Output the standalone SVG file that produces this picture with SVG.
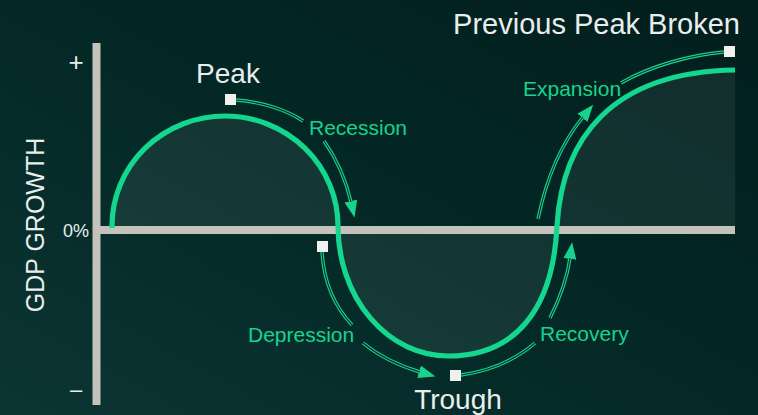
<svg xmlns="http://www.w3.org/2000/svg" xmlns:xlink="http://www.w3.org/1999/xlink" width="758" height="415" viewBox="0 0 758 415">
  <style>
    .lbl { font-family: "Liberation Sans", Arial, sans-serif; fill: #e9eeec; }
    .phase { font-family: "Liberation Sans", Arial, sans-serif; fill: #17d38e; font-size: 21px; }
    .axis { fill: #c3c3bb; }
    .curve { fill: none; stroke: #14d78f; stroke-width: 5.2; }
    .area { fill: #ffffff; fill-opacity: 0.065; }
    .out { fill: none; stroke: #17d38e; stroke-width: 3.4; }
    .gap { fill: none; stroke: #062a29; stroke-width: 1.1; }
    .node { fill: #f0f0ee; }
  </style>
  <defs>
    <linearGradient id="bg" x1="0" y1="1" x2="1" y2="0">
      <stop offset="0" stop-color="#0b3533"/>
      <stop offset="0.55" stop-color="#032725"/>
      <stop offset="1" stop-color="#021e1d"/>
    </linearGradient>
    <marker id="arr" viewBox="0 0 17 13" refX="1" refY="6.5" markerWidth="17" markerHeight="13" markerUnits="userSpaceOnUse" orient="auto">
      <path d="M0,0 L17,6.5 L0,13 Z" fill="#17d38e"/>
    </marker>
    <path id="c1a" d="M236,100 C 262,102 287,110 303,121"/>
    <path id="c1b" d="M324,141 C 336,158 346,180 351,202"/>
    <path id="c2a" d="M322,252 C 324,285 336,308 352,325"/>
    <path id="c2b" d="M363,343 C 380,357 400,366 420,372"/>
    <path id="c3a" d="M461,375 C 490,371 515,360 535,343"/>
    <path id="c3b" d="M550,318 C 559,300 567,280 570,258"/>
    <path id="c4a" d="M538,219 C 546,180 560,145 583,117"/>
    <path id="c4b" d="M621,83 C 650,66 690,55 724,52"/>
  </defs>

  <rect width="758" height="415" fill="url(#bg)"/>

  <g id="areas">
    <path class="area" d="M112,230 L112,226 A113 110 0 0 1 338,226 L338,230 Z"/>
    <path class="area" d="M338,230 A110 130 0 0 0 448,356 C 515,356 553,310 557,226 L557,230 Z"/>
    <path class="area" d="M557,230 L557,226 C 562,140 610,72 735,70 L735,230 Z"/>
  </g>

  <g id="axes">
    <rect class="axis" x="92.5" y="43" width="8" height="362"/>
    <rect class="axis" x="100" y="226" width="635" height="8"/>
  </g>

  <g id="cycle-curve">
    <path class="curve" d="M112,228 L112,226 A113 110 0 0 1 338,226 A110 130 0 0 0 448,356 C 515,356 553,310 557,226 C 562,140 610,72 735,70"/>
  </g>

  <g id="connectors">
    <use href="#c1a" class="out"/>
    <use href="#c1b" class="out" marker-end="url(#arr)"/>
    <use href="#c2a" class="out"/>
    <use href="#c2b" class="out" marker-end="url(#arr)"/>
    <use href="#c3a" class="out"/>
    <use href="#c3b" class="out" marker-end="url(#arr)"/>
    <use href="#c4a" class="out" marker-end="url(#arr)"/>
    <use href="#c4b" class="out"/>
    <use href="#c1a" class="gap"/>
    <use href="#c1b" class="gap"/>
    <use href="#c2a" class="gap"/>
    <use href="#c2b" class="gap"/>
    <use href="#c3a" class="gap"/>
    <use href="#c3b" class="gap"/>
    <use href="#c4a" class="gap"/>
    <use href="#c4b" class="gap"/>
  </g>

  <g id="axis-labels">
    <text class="lbl" x="35" y="225" font-size="25" text-anchor="middle" dominant-baseline="central" transform="rotate(-90 35 225)">GDP GROWTH</text>
    <text class="lbl" x="76" y="71" font-size="26" text-anchor="middle">+</text>
    <text class="lbl" x="89" y="237" font-size="18" text-anchor="end">0%</text>
    <text class="lbl" x="76" y="397" font-size="22" text-anchor="middle">–</text>
  </g>

  <g id="peak">
    <rect class="node" x="225" y="94" width="11" height="11"/>
    <text class="lbl" x="228" y="83" font-size="28" text-anchor="middle">Peak</text>
  </g>
  <g id="recession">
    <text class="phase" x="309" y="135">Recession</text>
  </g>
  <g id="depression-start">
    <rect class="node" x="317" y="241" width="11" height="11"/>
  </g>
  <g id="depression">
    <text class="phase" x="248" y="342">Depression</text>
  </g>
  <g id="trough">
    <rect class="node" x="450" y="370" width="11" height="11"/>
    <text class="lbl" x="458" y="409" font-size="28" text-anchor="middle">Trough</text>
  </g>
  <g id="recovery">
    <text class="phase" x="540" y="341">Recovery</text>
  </g>
  <g id="expansion">
    <text class="phase" x="523" y="96" font-size="20">Expansion</text>
  </g>
  <g id="previous-peak">
    <rect class="node" x="724" y="46" width="11" height="11"/>
    <text class="lbl" x="740" y="34" font-size="29" text-anchor="end">Previous Peak Broken</text>
  </g>
</svg>
